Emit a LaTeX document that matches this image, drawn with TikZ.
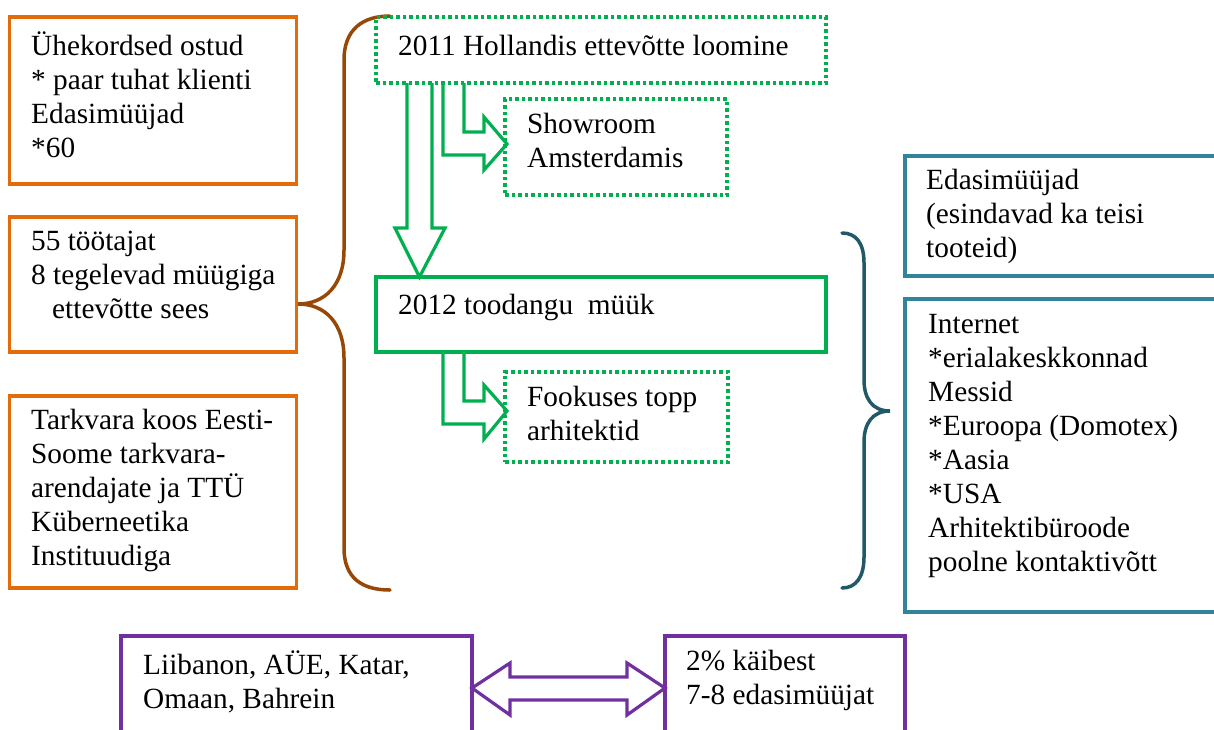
\documentclass[tikz,border=0pt]{standalone}
\usepackage{fontspec}
\setmainfont{Liberation Serif}
\usetikzlibrary{calc}

\definecolor{orangeline}{RGB}{227,108,9}
\definecolor{braceline}{RGB}{152,72,6}
\definecolor{greenline}{RGB}{0,176,80}
\definecolor{tealline}{RGB}{49,132,155}
\definecolor{tealbrace}{RGB}{33,89,104}
\definecolor{purpleline}{RGB}{112,48,160}

\newcommand\boxfont{\fontsize{29.3}{34}\selectfont}

\tikzset{
  panel/.style={draw, line width=3.5pt, rectangle, anchor=north west, inner sep=0pt, outer sep=0pt},
  obox/.style={panel, draw=orangeline},
  gbox/.style={panel, draw=greenline},
  gdots/.style={panel, draw=greenline, dash pattern=on 3.5pt off 3pt},
  tbox/.style={panel, draw=tealline},
  pbox/.style={panel, draw=purpleline},
  txt/.style={anchor=north west, inner sep=0pt, align=left, font=\boxfont,
              yshift=23.8pt, execute at begin node=\strut},
  garrow/.style={draw=greenline, line width=3.2pt, line join=miter},
  parrow/.style={draw=purpleline, line width=3.2pt, line join=miter},
  bracestroke/.style={line width=3.5pt, line cap=round}
}

\begin{document}
\begin{tikzpicture}[x=1pt,y=-1pt]
\useasboundingbox (0,0) rectangle (1214,729);
\clip (0,0) rectangle (1214,729);

% left column
\node[obox, minimum width=287pt, minimum height=167pt] (bA) at (9.5,17) {};
\node[obox, minimum width=287pt, minimum height=135pt] (bB) at (9.5,217) {};
\node[obox, minimum width=287pt, minimum height=192pt] (bC) at (9.5,396) {};
\node[txt] (tA) at (31,55) {Ühekordsed ostud\\* paar tuhat klienti\\Edasimüüjad\\*60};
\node[txt] (tB) at (31,255) {55 töötajat\\8 tegelevad müügiga\\\hspace*{21pt}ettevõtte sees};
\node[txt] (tC) at (31,433) {Tarkvara koos Eesti-\\Soome tarkvara-\\arendajate ja TTÜ\\Küberneetika\\Instituudiga};

% brace gathering the left column
\draw[bracestroke, braceline] (390,16) .. controls (362,16) and (344,30) .. (344,60)
  -- (344,250) .. controls (344,285) and (325,304) .. (298,304)
  .. controls (325,304) and (344,323) .. (344,358)
  -- (344,548) .. controls (344,578) and (362,590) .. (390,590);

% middle column
\node[gdots, minimum width=450pt, minimum height=66pt] (bTop) at (376,17) {};
\node[gdots, minimum width=222pt, minimum height=96pt] (bShow) at (505,99) {};
\node[gbox, minimum width=450pt, minimum height=75pt] (b2012) at (376,277) {};
\node[gdots, minimum width=223pt, minimum height=90pt] (bFok) at (505,372) {};
\node[txt] (tTop) at (398,55) {2011 Hollandis ettevõtte loomine};
\node[txt] (tShow) at (527,137) {Showroom\\Amsterdamis};
\node[txt] (t2012) at (398,314) {2012 toodangu~~müük};
\node[txt] (tFok) at (527,410) {Fookuses topp\\arhitektid};

% block arrow down
\draw[garrow] ($(bTop.south west)+(31,0)$) -- ($(b2012.north west)+(31,-49)$)
  -- ++(-12,0) -- ($(b2012.north west)+(43.5,0)$) -- ($(b2012.north west)+(69,-49)$)
  -- ++(-13,0) -- ($(bTop.south west)+(56,0)$);
% bent arrow to the showroom
\draw[garrow] ($(bTop.south west)+(67,0)$) -- ++(0,72) -- ++(41,0) -- ++(0,15)
  -- ($(bShow.west)+(2,-3)$) -- ($(bShow.west)+(-21,-30)$) -- ++(0,15) -- ++(-20,0)
  -- ($(bTop.south west)+(88,0)$);
% bent arrow to the focus group
\draw[garrow] ($(b2012.south west)+(67,0)$) -- ++(0,72) -- ++(41,0) -- ++(0,15)
  -- ($(bFok.west)+(2,-6)$) -- ($(bFok.west)+(-21,-32)$) -- ++(0,16) -- ++(-20,0)
  -- ($(b2012.south west)+(88,0)$);

% right column
\node[tbox, minimum width=320pt, minimum height=120pt] (bD) at (905,156) {};
\node[tbox, minimum width=320pt, minimum height=313pt] (bE) at (905,299) {};
\node[txt] (tD) at (926,193) {Edasimüüjad\\(esindavad ka teisi\\tooteid)};
\node[txt] (tE) at (928,338) {Internet\\*erialakeskkonnad\\Messid\\*Euroopa (Domotex)\\*Aasia\\*USA\\Arhitektibüroode\\poolne kontaktivõtt};

% brace gathering the sales channels
\draw[bracestroke, tealbrace] (842,233) .. controls (856,233) and (864,243) .. (864,263)
  -- (864,380) .. controls (864,398) and (872,411) .. (890,411)
  .. controls (872,411) and (864,424) .. (864,442)
  -- (864,557) .. controls (864,577) and (856,588) .. (842,588);

% bottom row
\node[pbox, minimum width=351pt, minimum height=104pt] (bP1) at (121,636) {};
\node[pbox, minimum width=240pt, minimum height=104pt] (bP2) at (665,636) {};
\node[txt] (tP1) at (143,674) {Liibanon, AÜE, Katar,\\Omaan, Bahrein};
\node[txt] (tP2) at (686,674) {2\% käibest\\7-8 edasimüüjat};

% two-way block arrow
\draw[parrow] (bP1.east) -- ++(38,-25) -- ++(0,14) -- ($(bP2.west)+(-38,-11)$)
  -- ++(0,-14) -- (bP2.west) -- ++(-38,27) -- ++(0,-15)
  -- ($(bP1.east)+(38,12)$) -- ++(0,15) -- cycle;
\end{tikzpicture}
\end{document}
